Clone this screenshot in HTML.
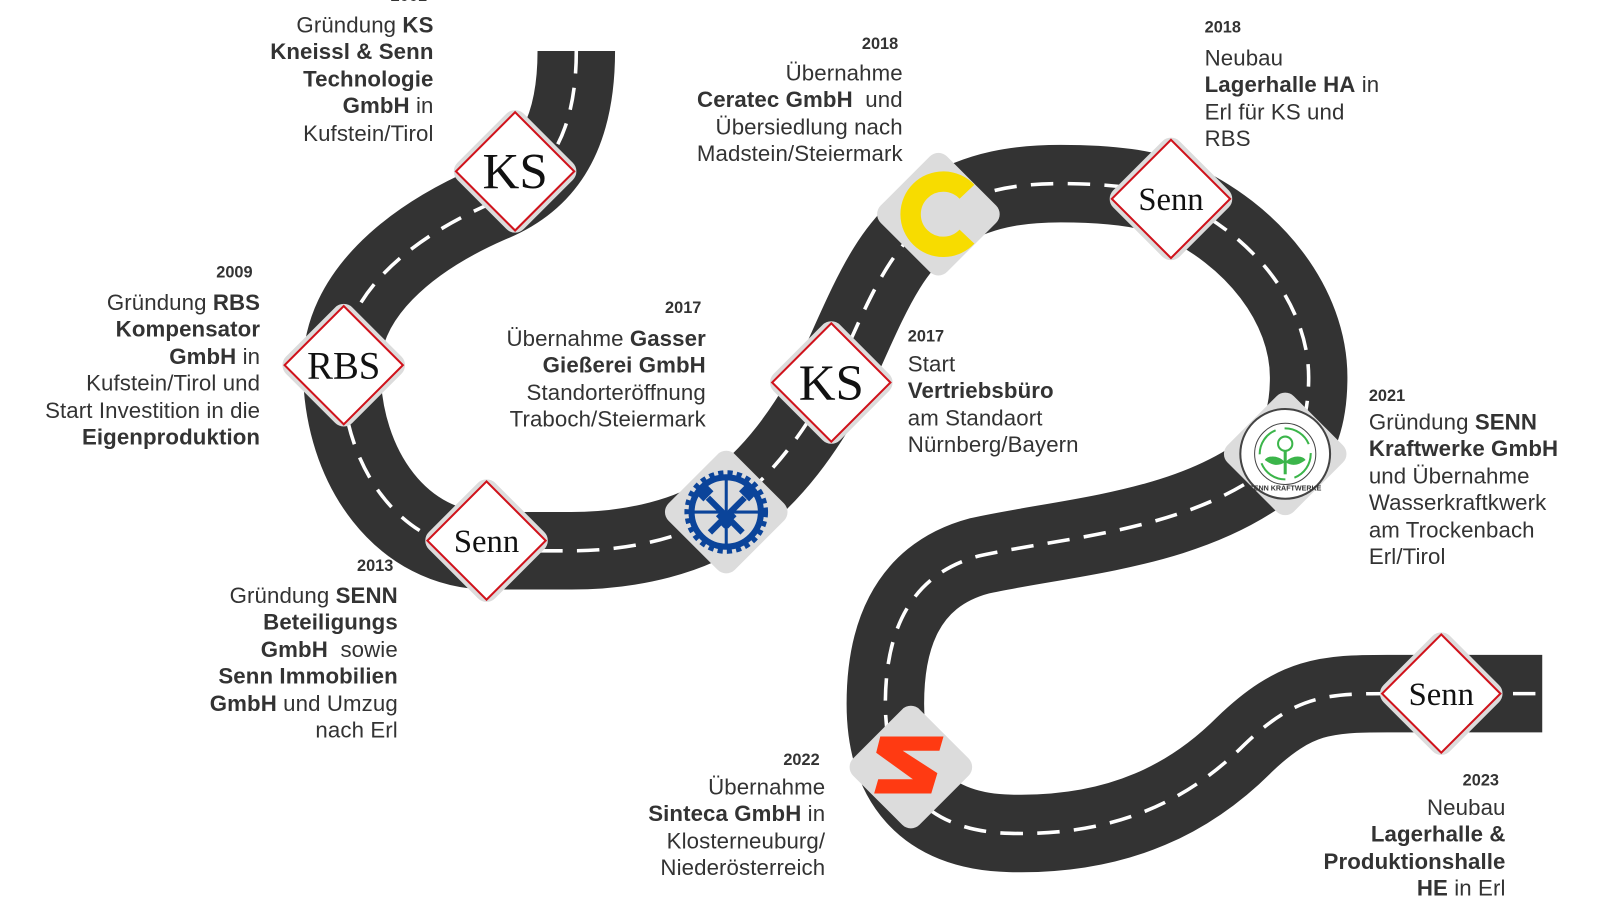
<!DOCTYPE html>
<html><head><meta charset="utf-8"><style>
body{margin:0;width:1600px;height:900px;background:#fff;overflow:hidden;position:relative;font-family:"Liberation Sans",sans-serif;color:#333}
#w{position:absolute;left:0;top:0;width:1570px;height:882px;transform:scale(1.02);transform-origin:0 0}
.t{position:absolute;font-size:21.8px;line-height:26.4px;white-space:nowrap;letter-spacing:0.1px}
.r{text-align:right}
.y{position:absolute;font-size:16px;font-weight:bold;white-space:nowrap}
b{font-weight:bold}
</style></head><body><div id="w">
<svg width="1570" height="882" style="position:absolute;left:0;top:0">
<defs>
<g id="dia"><rect x="-46" y="-46" width="92" height="92" rx="12" fill="#dcdcdc" transform="rotate(45)"/></g>
<g id="rd"><rect x="-41" y="-41" width="82" height="82" fill="#fff" stroke="#d0121b" stroke-width="2" transform="rotate(45)"/></g>
</defs>
<path d="M565,50 C565,140 530,180 480,200 C400,235 335,290 335,360 C335,460 395,540 480,540 L560,540 C620,540 680,525 712,500 C760,465 790,420 815,375 C850,300 870,240 920,210 C960,185 1000,180 1040,180 C1090,180 1125,185 1150,195 C1230,230 1283,300 1283,370 C1283,405 1275,430 1260,445 C1180,520 1050,525 960,545 C885,565 868,630 868,690 C868,765 905,815 990,817 C1100,820 1170,780 1220,730 C1270,682 1300,680 1360,680 L1512,680" fill="none" stroke="#333" stroke-width="76"/>
<path d="M565,50 C565,140 530,180 480,200 C400,235 335,290 335,360 C335,460 395,540 480,540 L560,540 C620,540 680,525 712,500 C760,465 790,420 815,375 C850,300 870,240 920,210 C960,185 1000,180 1040,180 C1090,180 1125,185 1150,195 C1230,230 1283,300 1283,370 C1283,405 1275,430 1260,445 C1180,520 1050,525 960,545 C885,565 868,630 868,690 C868,765 905,815 990,817 C1100,820 1170,780 1220,730 C1270,682 1300,680 1360,680 L1512,680" fill="none" stroke="#fff" stroke-width="3.5" stroke-dasharray="22 14"/>
<g transform="translate(505,168)"><use href="#dia"/><use href="#rd"/><text y="17" text-anchor="middle" font-family="Liberation Serif" font-size="50" fill="#111">KS</text></g>
<g transform="translate(337,358)"><use href="#dia"/><use href="#rd"/><text y="13" text-anchor="middle" font-family="Liberation Serif" font-size="38" fill="#111">RBS</text></g>
<g transform="translate(477,530)"><use href="#dia"/><use href="#rd"/><text y="11" text-anchor="middle" font-family="Liberation Serif" font-size="32" fill="#111">Senn</text></g>
<g transform="translate(815,375)"><use href="#dia"/><use href="#rd"/><text y="17" text-anchor="middle" font-family="Liberation Serif" font-size="50" fill="#111">KS</text></g>
<g transform="translate(1148,195)"><use href="#dia"/><use href="#rd"/><text y="11" text-anchor="middle" font-family="Liberation Serif" font-size="32" fill="#111">Senn</text></g>
<g transform="translate(1413,680)"><use href="#dia"/><use href="#rd"/><text y="11" text-anchor="middle" font-family="Liberation Serif" font-size="32" fill="#111">Senn</text></g>
<g transform="translate(920,210)"><use href="#dia"/><path d="M28,-22 A32,32 0 1 0 28,22" fill="none" stroke="#f7dc00" stroke-width="20"/></g>
<g transform="translate(893,752)"><use href="#dia"/><path d="M-30,-30 L32,-30 L28,-16 L-8,-16 L26,6 L20,26 L-36,26 L-32,12 L2,12 L-34,-14 Z" fill="#ff3a12"/></g>
<g transform="translate(712,502)"><use href="#dia"/>
<circle r="38" fill="none" stroke="#0b449a" stroke-width="6" stroke-dasharray="5 4"/>
<circle r="34" fill="none" stroke="#0b449a" stroke-width="6"/>
<line x1="0" y1="-32" x2="0" y2="32" stroke="#0b449a" stroke-width="3"/><line x1="-32" y1="0" x2="32" y2="0" stroke="#0b449a" stroke-width="3"/>
<path d="M-18,-14 L16,20 M18,-14 L-16,20 M-4,14 L8,2 M4,14 L-8,2" stroke="#0b449a" stroke-width="6"/>
<rect x="-28" y="-24" width="14" height="10" fill="#0b449a" transform="rotate(-45 -21 -19)"/><rect x="14" y="-24" width="14" height="10" fill="#0b449a" transform="rotate(45 21 -19)"/></g>
<g transform="translate(1260,445)"><use href="#dia"/><circle r="44" fill="#fff" stroke="#444" stroke-width="2"/><circle r="30" fill="none" stroke="#444" stroke-width="1"/>
<circle r="25" fill="none" stroke="#3bb54a" stroke-width="2" stroke-dasharray="30 9"/>
<circle cx="0" cy="-10" r="7" fill="none" stroke="#3bb54a" stroke-width="2"/><line x1="0" y1="-3" x2="0" y2="20" stroke="#3bb54a" stroke-width="3"/>
<path d="M0,8 C-8,0 -18,2 -20,6 C-12,12 -6,12 0,8 Z M0,8 C8,0 18,2 20,6 C12,12 6,12 0,8 Z" fill="#3bb54a"/>
<text y="36" text-anchor="middle" font-size="7" font-weight="bold" fill="#333">SENN KRAFTWERKE</text></g>
</svg>
<div class="y" style="left:383px;top:-12px">2001</div>
<div class="t r" style="right:1145px;top:12px">Gründung <b>KS</b><br><b>Kneissl &amp; Senn</b><br><b>Technologie</b><br><b>GmbH</b> in<br>Kufstein/Tirol</div>
<div class="y" style="left:212px;top:259px">2009</div>
<div class="t r" style="right:1315px;top:284px">Gründung <b>RBS</b><br><b>Kompensator</b><br><b>GmbH</b> in<br>Kufstein/Tirol und<br>Start Investition in die<br><b>Eigenproduktion</b></div>
<div class="y" style="left:350px;top:547px">2013</div>
<div class="t r" style="right:1180px;top:571px">Gründung <b>SENN</b><br><b>Beteiligungs</b><br><b>GmbH</b>&nbsp; sowie<br><b>Senn Immobilien</b><br><b>GmbH</b> und Umzug<br>nach Erl</div>
<div class="y" style="left:652px;top:294px">2017</div>
<div class="t r" style="right:878px;top:319px">Übernahme <b>Gasser</b><br><b>Gießerei GmbH</b><br>Standorteröffnung<br>Traboch/Steiermark</div>
<div class="y" style="left:845px;top:35px">2018</div>
<div class="t r" style="right:685px;top:59px">Übernahme<br><b>Ceratec GmbH</b>&nbsp; und<br>Übersiedlung nach<br>Madstein/Steiermark</div>
<div class="y" style="left:890px;top:322px">2017</div>
<div class="t" style="left:890px;top:344px">Start<br><b>Vertriebsbüro</b><br>am Standaort<br>Nürnberg/Bayern</div>
<div class="y" style="left:1181px;top:19px">2018</div>
<div class="t" style="left:1181px;top:44px">Neubau<br><b>Lagerhalle HA</b> in<br>Erl für KS und<br>RBS</div>
<div class="y" style="left:1342px;top:380px">2021</div>
<div class="t" style="left:1342px;top:401px">Gründung <b>SENN</b><br><b>Kraftwerke GmbH</b><br>und Übernahme<br>Wasserkraftkwerk<br>am Trockenbach<br>Erl/Tirol</div>
<div class="y" style="left:768px;top:737px">2022</div>
<div class="t r" style="right:761px;top:759px">Übernahme<br><b>Sinteca GmbH</b> in<br>Klosterneuburg/<br>Niederösterreich</div>
<div class="y" style="left:1434px;top:757px">2023</div>
<div class="t r" style="right:94px;top:779px">Neubau<br><b>Lagerhalle &amp;</b><br><b>Produktionshalle</b><br><b>HE</b> in Erl</div>
</div></body></html>
